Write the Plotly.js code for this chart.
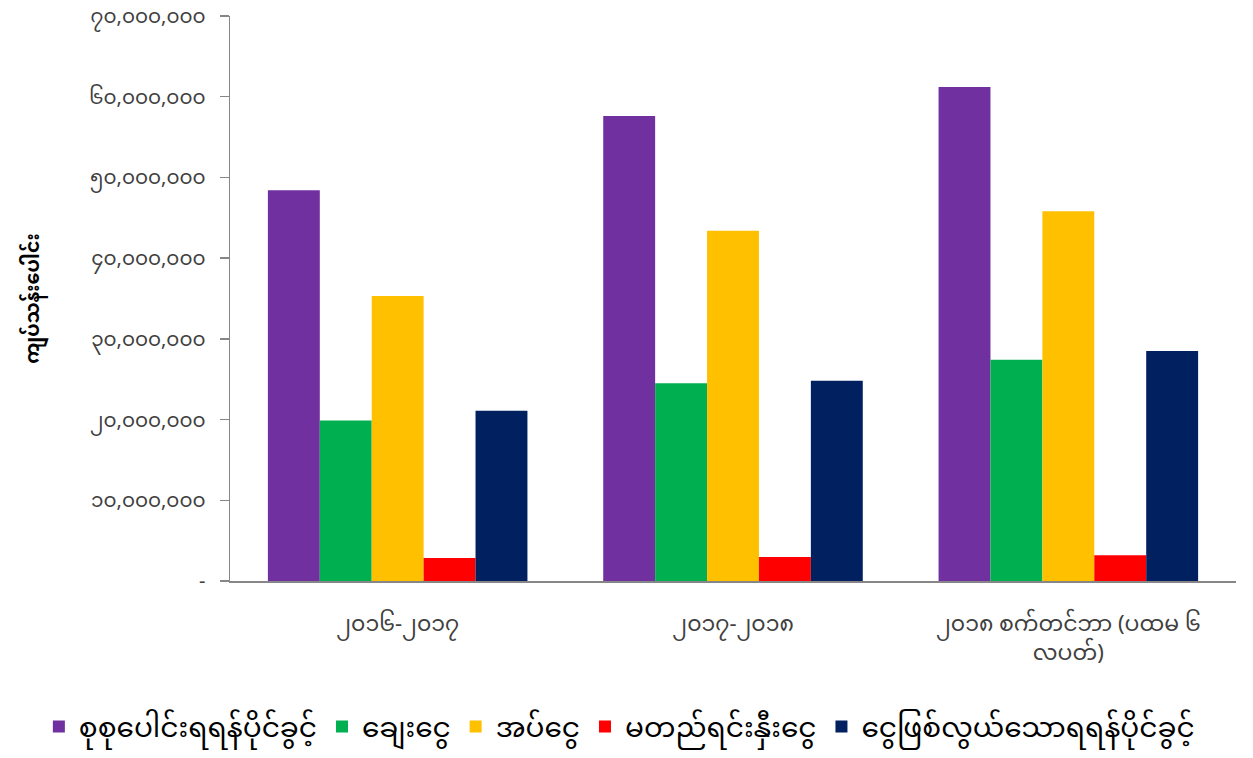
<!DOCTYPE html>
<html>
<head>
<meta charset="utf-8">
<script src="https://cdn.plot.ly/plotly-3.0.1.min.js"></script>
<style>
  html, body { margin: 0; padding: 0; background: #fff; }
  #chart { width: 1253px; height: 758px; }
</style>
</head>
<body>
<div id="chart"></div>
<script>
// Periods on the category axis
const periods = ['၂၀၁၆-၂၀၁၇', '၂၀၁၇-၂၀၁၈', '၂၀၁၈ စက်တင်ဘာ (ပထမ ၆<br>လပတ်)'];

// Series names
const seriesNames = ['စုစုပေါင်းရရန်ပိုင်ခွင့်', 'ချေးငွေ', 'အပ်ငွေ', 'မတည်ရင်းနှီးငွေ', 'ငွေဖြစ်လွယ်သောရရန်ပိုင်ခွင့်'];

// Values (kyat millions)
const totalAssets = [48400000, 57600000, 61200000];
const loans       = [19900000, 24500000, 27400000];
const deposits    = [35300000, 43400000, 45800000];
const capital     = [2850000, 2970000, 3200000];
const liquidAssets = [21100000, 24800000, 28500000];

const seriesColors = ['#7030A0', '#00B050', '#FFC000', '#FF0000', '#002060'];

// Y tick labels in Myanmar digits
const yTickVals = [0, 10000000, 20000000, 30000000, 40000000, 50000000, 60000000, 70000000];
const yTickText = ['-', '၁၀,၀၀၀,၀၀၀', '၂၀,၀၀၀,၀၀၀', '၃၀,၀၀၀,၀၀၀', '၄၀,၀၀၀,၀၀၀', '၅၀,၀၀၀,၀၀၀', '၆၀,၀၀၀,၀၀၀', '၇၀,၀၀၀,၀၀၀'];

const yAxisTitle = 'ကျပ်သန်းပေါင်း';

const seriesValues = [totalAssets, loans, deposits, capital, liquidAssets];
const FONT = 'Noto Sans Myanmar, Padauk, Myanmar Text, Noto Sans, sans-serif';

const traces = seriesValues.map((vals, i) => ({
  type: 'bar',
  name: seriesNames[i],
  x: periods,
  y: vals,
  marker: { color: seriesColors[i] },
  hoverinfo: 'x+y+name'
}));

const layout = {
  width: 1253,
  height: 758,
  paper_bgcolor: '#fff',
  plot_bgcolor: '#fff',
  margin: { l: 230, r: 17, t: 16, b: 177, autoexpand: false },
  barmode: 'group',
  bargap: 0.226,
  bargroupgap: 0,
  font: { family: FONT, color: '#404040' },
  xaxis: {
    showline: true,
    linecolor: '#868686',
    linewidth: 1.5,
    ticks: '',
    tickfont: { size: 22, color: '#404040', family: FONT },
    ticklabelstandoff: 22,
    showgrid: false,
    zeroline: false,
    automargin: false
  },
  yaxis: {
    range: [0, 70000000],
    tickvals: yTickVals,
    ticktext: yTickText,
    tickfont: { size: 20, color: '#404040', family: FONT },
    ticklabeloverflow: 'allow',
    ticklabelstandoff: 10,
    showline: true,
    linecolor: '#868686',
    linewidth: 1.5,
    ticks: 'outside',
    ticklen: 9,
    tickcolor: '#868686',
    tickwidth: 1.5,
    showgrid: false,
    zeroline: false,
    automargin: false,
    title: { text: yAxisTitle, font: { size: 19, color: '#000', family: FONT, weight: 'bold' }, standoff: 44 }
  },
  legend: {
    orientation: 'h',
    x: -0.19,
    xanchor: 'left',
    xref: 'paper',
    y: -0.258,
    yanchor: 'middle',
    font: { size: 28, color: '#000', family: FONT },
    traceorder: 'normal',
    itemwidth: 30
  },
  showlegend: true
};

Plotly.newPlot('chart', traces, layout, { displayModeBar: false, staticPlot: true });
</script>
</body>
</html>
